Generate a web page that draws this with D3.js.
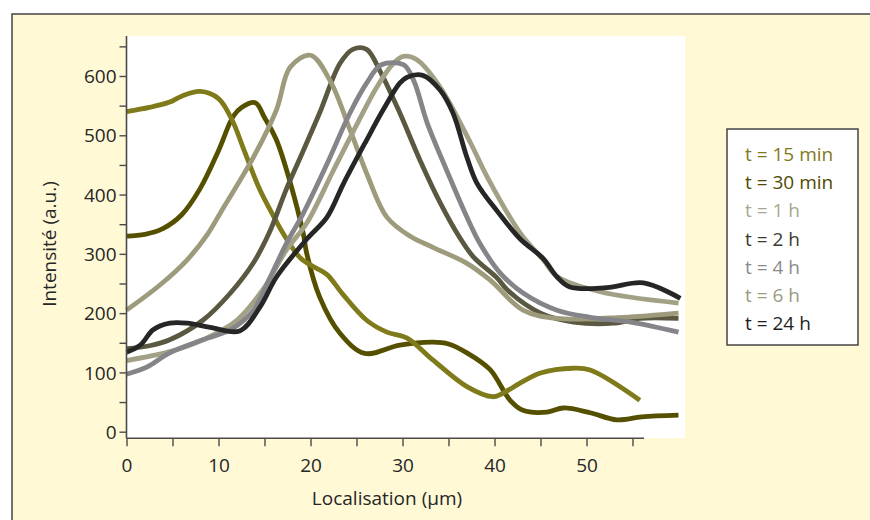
<!DOCTYPE html>
<html>
<head>
<meta charset="utf-8">
<script src="https://cdn.jsdelivr.net/npm/d3@7"></script>
<style>
  body { margin: 0; background: #fff; }
  svg { display: block; font-family: "Open Sans", "Noto Sans", sans-serif; }
</style>
</head>
<body>
<svg id="chart" width="870" height="520"></svg>
<script>
// Series labels and colours (legend order)
const seriesNames = ["t = 15 min", "t = 30 min", "t = 1 h", "t = 2 h", "t = 4 h", "t = 6 h", "t = 24 h"];
const seriesColors = ["#7f7a1a", "#555000", "#9d9b7c", "#5a5840", "#858589", "#a3a185", "#262626"];
const legendTextColors = ["#7f7a1a", "#4f4a00", "#a8a690", "#3c3a2c", "#8a8a8d", "#9c9a80", "#1e1e1e"];

// [localisation (µm), intensity (a.u.)]
const t15min = [[0,540],[2.5,547],[4.7,556],[6,566],[8,574],[10,562],[11.5,525],[12.7,478],[14.5,408],[16,363],[17,335],[18.9,293],[20.5,277],[21.8,265],[23.5,232],[26.1,188],[28.3,168],[30.5,158],[33.3,121],[37,76],[39.8,59],[40.8,64],[43,84],[45,99],[48.5,107],[50.4,104],[55.8,53]];
const t30min = [[0,330],[2,333],[4,343],[6,366],[8,410],[10,474],[11.6,532],[12.5,547],[14,555],[15,530],[16.3,492],[17.8,420],[19.2,335],[19.6,300],[21,227],[23.2,166],[25.9,132],[29.7,146],[33.3,151],[35,148],[37,133],[39.5,105],[41.7,53],[43.1,36],[45.7,33],[47.5,40],[50.4,32],[53.3,20],[56,25],[60,28]];
const t1h = [[0,205],[3.6,247],[6.6,290],[8.8,333],[10.2,369],[13.8,463],[16.3,543],[17.8,615],[20,635],[22.1,593],[24.3,509],[26.1,436],[28.3,362],[30.8,330],[33.3,311],[37,284],[39.5,256],[43.1,205],[46.8,191],[54,193],[60,200]];
const t2h = [[0,140],[2.5,145],[4.7,155],[8.3,188],[11.3,234],[13.8,285],[15.5,335],[17.4,410],[18.9,463],[21,538],[23.2,621],[24.6,645],[26.1,645],[27.5,610],[29.7,538],[31.9,458],[34.1,386],[36.2,328],[37.7,295],[40.3,259],[41.4,239],[45,200],[48.6,185],[52.9,183],[55.8,191],[60,191]];
const t4h = [[0,97],[2.2,109],[4.7,133],[8.3,155],[11.3,172],[13.8,205],[15.3,250],[17.4,318],[19.2,368],[21.8,452],[24.3,538],[26.1,588],[27.7,619],[30.1,619],[31.2,593],[32.7,520],[34.8,441],[37,362],[38.4,318],[40.6,268],[43.1,234],[46.8,205],[50.4,193],[54.8,185],[60,168]];
const t6h = [[0,120],[4.7,135],[8.3,155],[12,188],[14.8,239],[17.4,307],[19.6,352],[22.5,441],[25.1,520],[27.2,581],[29,621],[30.1,633],[31.6,627],[34.1,581],[37.4,487],[39.2,430],[42.8,335],[45.3,290],[46.8,262],[51.5,236],[60,217]];
const t24h = [[0,134],[1.5,146],[2.9,172],[4.7,183],[6.6,183],[9.1,176],[12.3,170],[14.5,210],[16.3,261],[19.6,325],[21.8,362],[23.6,419],[26.1,492],[27.9,543],[29.7,588],[30.5,598],[32.2,601],[34.1,576],[35.5,537],[37,463],[38.1,419],[40.4,370],[42.8,325],[45.3,292],[46.8,261],[48.2,244],[52.2,243],[56.2,251],[60.2,225]];

const seriesData = [t15min, t30min, t1h, t2h, t4h, t6h, t24h];
// drawing order, back to front
const drawOrder = [1, 0, 3, 2, 5, 4, 6];

const xTicksMajor = [0, 10, 20, 30, 40, 50];
const xTicksAll = d3.range(0, 56, 5);
const yTicksMajor = [0, 100, 200, 300, 400, 500, 600];
const yTicksAll = d3.range(0, 651, 50);

const xAxisTitle = "Localisation (µm)";
const yAxisTitle = "Intensité (a.u.)";

const fontSize = 19;
const textColor = "#262626";

const svg = d3.select("#chart");

// cream frame
svg.append("rect")
  .attr("x", 12).attr("y", 14)
  .attr("width", 880).attr("height", 540)
  .attr("fill", "#fff9d6")
  .attr("stroke", "#444").attr("stroke-width", 1.5);

// white plotting area
svg.append("rect")
  .attr("x", 127).attr("y", 36)
  .attr("width", 558).attr("height", 402)
  .attr("fill", "#fff");

const x = d3.scaleLinear().domain([0, 50]).range([126.5, 586.5]);
const y = d3.scaleLinear().domain([0, 600]).range([431.7, 76]);

const line = d3.line()
  .x(d => x(d[0]))
  .y(d => y(d[1]))
  .curve(d3.curveCatmullRom.alpha(0.5));

svg.append("g")
  .selectAll("path")
  .data(drawOrder)
  .join("path")
  .attr("d", i => line(seriesData[i]))
  .attr("fill", "none")
  .attr("stroke", i => seriesColors[i])
  .attr("stroke-width", 4.8)
  .attr("stroke-linejoin", "round")
  .attr("stroke-linecap", "butt");

// axes
const axisColor = "#4a4a4a";
const axisY0 = 438.3;

const xAxis = d3.axisBottom(x)
  .tickValues(xTicksAll)
  .tickSize(8)
  .tickFormat(d => xTicksMajor.includes(d) ? d : "");
const gx = svg.append("g")
  .attr("transform", `translate(0,${axisY0})`)
  .call(xAxis);
gx.select(".domain").attr("d", `M${x(0)},0H644`).attr("stroke", axisColor).attr("stroke-width", 1.6);
gx.selectAll(".tick line").attr("stroke", axisColor).attr("stroke-width", 1.4);
gx.selectAll(".tick text")
  .attr("y", 34).attr("dy", 0)
  .attr("font-size", fontSize).attr("fill", textColor)
  .attr("font-family", "'Open Sans', sans-serif");

const yAxis = d3.axisLeft(y)
  .tickValues(yTicksAll)
  .tickSize(7)
  .tickFormat(d => yTicksMajor.includes(d) ? d : "");
const gy = svg.append("g")
  .attr("transform", "translate(126.5,0)")
  .call(yAxis);
gy.select(".domain").attr("d", `M0,36V${axisY0}`).attr("stroke", axisColor).attr("stroke-width", 1.6);
gy.selectAll(".tick line").attr("stroke", axisColor).attr("stroke-width", 1.4);
gy.selectAll(".tick text")
  .attr("x", -10).attr("dy", "0.35em")
  .attr("font-size", fontSize).attr("fill", textColor)
  .attr("font-family", "'Open Sans', sans-serif");

// axis titles
svg.append("text")
  .attr("x", 387).attr("y", 505)
  .attr("text-anchor", "middle")
  .attr("font-size", fontSize).attr("fill", textColor)
  .text(xAxisTitle);

svg.append("text")
  .attr("transform", "translate(56,244) rotate(-90)")
  .attr("text-anchor", "middle")
  .attr("font-size", fontSize).attr("fill", textColor)
  .text(yAxisTitle);

// legend
const legend = svg.append("g");
legend.append("rect")
  .attr("x", 727).attr("y", 129)
  .attr("width", 131).attr("height", 216)
  .attr("fill", "#fff")
  .attr("stroke", "#444").attr("stroke-width", 1.5);

legend.selectAll("text")
  .data(seriesNames)
  .join("text")
  .attr("x", 745)
  .attr("y", (d, i) => 161 + i * 28.2)
  .attr("font-size", fontSize)
  .attr("fill", (d, i) => legendTextColors[i])
  .text(d => d);
</script>
</body>
</html>
